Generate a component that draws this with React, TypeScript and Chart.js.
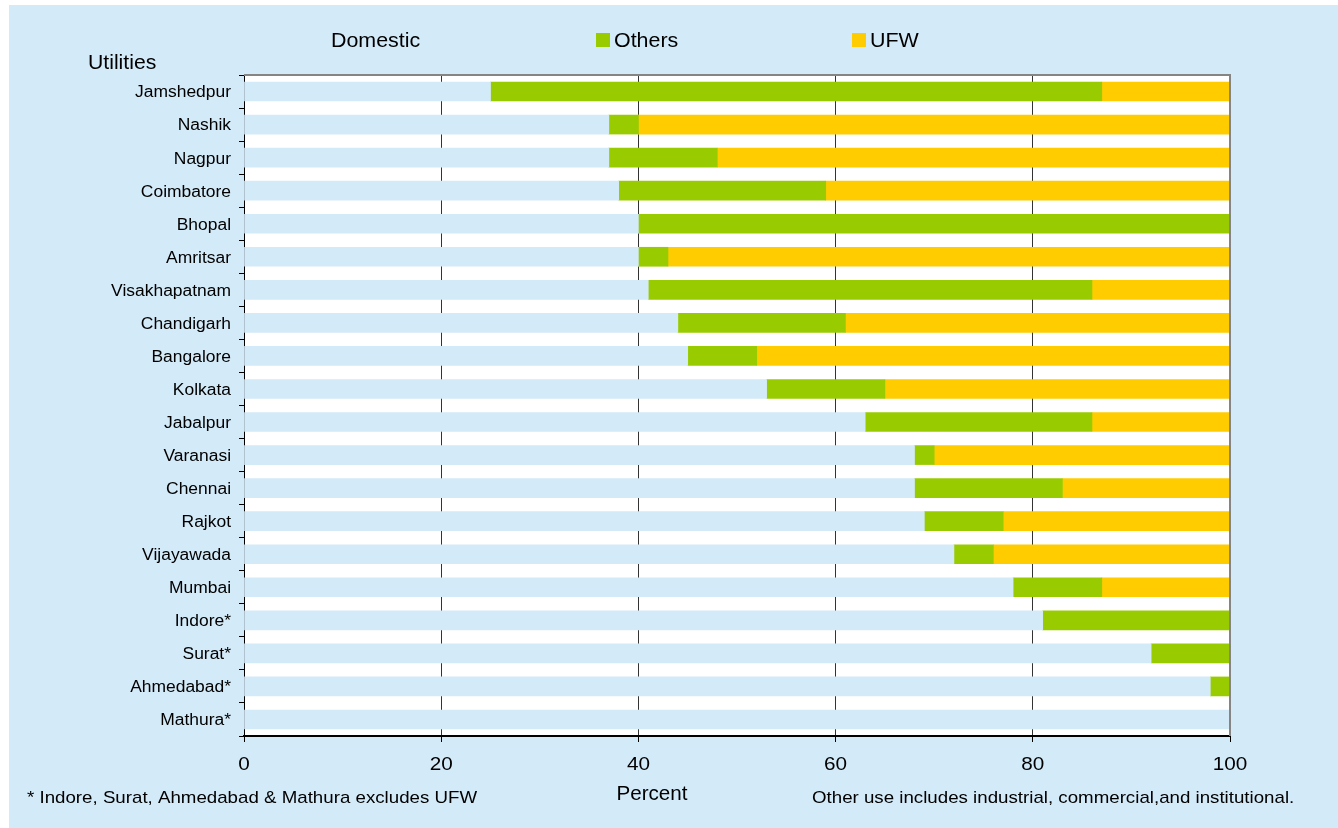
import React, { useEffect, useRef } from 'react';
import { Chart, registerables } from 'chart.js';

Chart.register(...registerables);

const utilities = [
  'Jamshedpur', 'Nashik', 'Nagpur', 'Coimbatore', 'Bhopal', 'Amritsar', 'Visakhapatnam',
  'Chandigarh', 'Bangalore', 'Kolkata', 'Jabalpur', 'Varanasi', 'Chennai', 'Rajkot',
  'Vijayawada', 'Mumbai', 'Indore*', 'Surat*', 'Ahmedabad*', 'Mathura*',
];
const domestic = [25, 37, 37, 38, 40, 40, 41, 44, 45, 53, 63, 68, 68, 69, 72, 78, 81, 92, 98, 100];
const others = [62, 3, 11, 21, 60, 3, 45, 17, 7, 12, 23, 2, 15, 8, 4, 9, 19, 8, 2, 0];
const ufw = [13, 60, 52, 41, 0, 57, 14, 39, 48, 35, 14, 30, 17, 23, 24, 13, 0, 0, 0, 0];
const seriesNames = ['Domestic', 'Others', 'UFW'];
const xTicks = [0, 20, 40, 60, 80, 100];

const BG = '#D3EAF8';
const GREEN = '#99CC00';
const YELLOW = '#FFCC00';
const FONT = '"Liberation Sans", Arial, sans-serif';
const SX = 1.09; // horizontal stretch of the lettering

function txt(ctx: CanvasRenderingContext2D, s: string, x: number, y: number, size: number, align: CanvasTextAlign, sx = SX) {
  ctx.save();
  ctx.font = `${size}px ${FONT}`;
  ctx.fillStyle = '#000';
  ctx.textBaseline = 'middle';
  ctx.textAlign = align;
  ctx.translate(x, y);
  ctx.scale(sx, 1);
  ctx.fillText(s, 0, 0);
  ctx.restore();
}

const decor = {
  id: 'decor',
  beforeDraw(chart: any) {
    const { ctx, chartArea: a } = chart;
    ctx.save();
    ctx.fillStyle = '#ffffff';
    ctx.fillRect(a.left, a.top, a.right - a.left, a.bottom - a.top);
    ctx.restore();
  },
  afterDraw(chart: any) {
    const { ctx, chartArea: a } = chart;
    const xs = chart.scales.x;
    const ys = chart.scales.y;
    ctx.save();
    ctx.strokeStyle = '#858585';
    ctx.lineWidth = 2;
    ctx.beginPath();
    ctx.moveTo(a.left, a.top);
    ctx.lineTo(a.right, a.top);
    ctx.lineTo(a.right, a.bottom);
    ctx.stroke();
    ctx.restore();

    // tick labels
    utilities.forEach((u, i) => txt(ctx, u, a.left - 13, ys.getPixelForValue(i) + 1.5, 16, 'right'));
    xTicks.forEach((v) => txt(ctx, String(v), xs.getPixelForValue(v), a.bottom + 29, 19, 'center'));

    // legend
    const colors = [BG, GREEN, YELLOW];
    const legendX = [304, 587, 843];
    seriesNames.forEach((n, i) => {
      ctx.fillStyle = colors[i];
      ctx.fillRect(legendX[i], 28, 14, 14);
      txt(ctx, n, legendX[i] + 18, 36, 20, 'left', 1.07);
    });

    // axis titles & notes
    txt(ctx, 'Utilities', 79, 58, 20, 'left', 1.06);
    txt(ctx, 'Percent', 643, 789, 20, 'center', 1.03);
    txt(ctx, '* Indore, Surat, Ahmedabad & Mathura excludes UFW', 18, 793, 17, 'left', 1.1);
    txt(ctx, 'Other use includes industrial, commercial,and institutional.', 803, 793, 17, 'left', 1.1);
  },
};

export default function App() {
  const ref = useRef<HTMLCanvasElement>(null);
  useEffect(() => {
    if (!ref.current) return;
    const chart = new Chart(ref.current, {
      type: 'bar',
      data: {
        labels: utilities,
        datasets: [
          { label: seriesNames[0], data: domestic, backgroundColor: BG, borderWidth: 0, barThickness: 19 },
          { label: seriesNames[1], data: others, backgroundColor: GREEN, borderWidth: 0, barThickness: 19 },
          { label: seriesNames[2], data: ufw, backgroundColor: YELLOW, borderWidth: 0, barThickness: 19 },
        ],
      },
      options: {
        indexAxis: 'y',
        responsive: false,
        maintainAspectRatio: false,
        animation: false,
        layout: { padding: { left: 0, top: 70, right: 108, bottom: 0 } },
        plugins: { legend: { display: false }, tooltip: { enabled: false }, title: { display: false } },
        scales: {
          x: {
            stacked: true,
            min: 0,
            max: 100,
            afterBuildTicks: (s: any) => { s.ticks = xTicks.map((v) => ({ value: v })); },
            afterFit: (s: any) => { s.height = 92; },
            ticks: { display: false },
            grid: { color: '#333333', lineWidth: 1, tickLength: 6, tickColor: '#000' },
            border: { color: '#000', width: 2 },
          },
          y: {
            stacked: true,
            afterFit: (s: any) => { s.width = 235; },
            ticks: { display: false, autoSkip: false },
            grid: { offset: true, drawOnChartArea: false, tickLength: 5, color: '#000' },
            border: { color: '#000', width: 1 },
          },
        },
      },
      plugins: [decor],
    });
    return () => chart.destroy();
  }, []);
  return (
    <div style={{ position: 'absolute', left: 9, top: 5, width: 1329, height: 823, background: BG }}>
      <canvas ref={ref} width={1329} height={823} style={{ width: 1329, height: 823, display: 'block' }} />
    </div>
  );
}
